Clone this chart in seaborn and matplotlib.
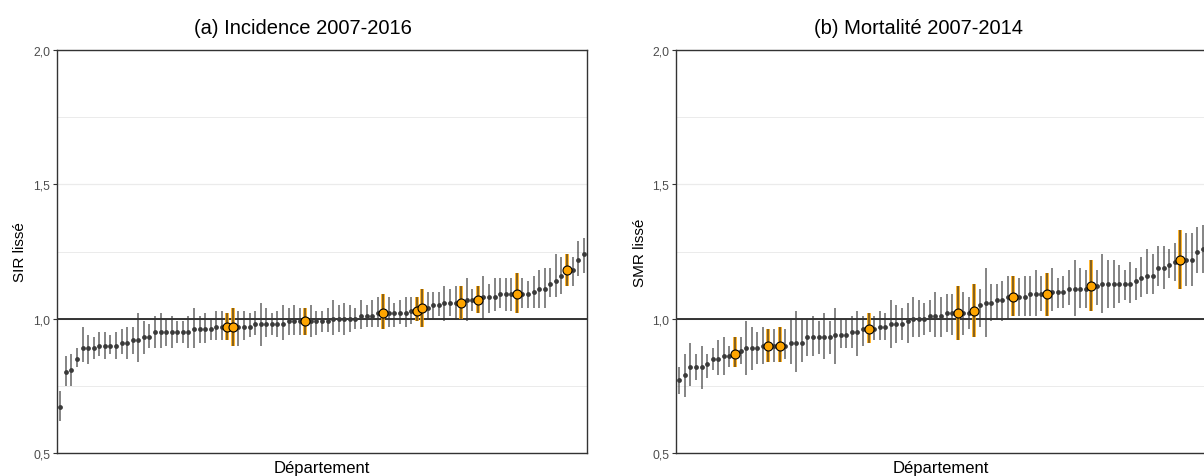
import numpy as np
import pandas as pd
import matplotlib
matplotlib.use("Agg")
import matplotlib.pyplot as plt
import seaborn as sns
from matplotlib.ticker import FixedLocator

# ---------------- data ----------------
titles = ["(a) Incidence 2007-2016", "(b) Mortalité 2007-2014"]
ylabels = ["SIR lissé", "SMR lissé"]
xlabel = "Département"
ytick_values = [0.5, 1.0, 1.5, 2.0]
ytick_labels = ["0,5", "1,0", "1,5", "2,0"]

est_a = [0.67, 0.80, 0.81, 0.85, 0.89, 0.89, 0.89, 0.90, 0.90, 0.90,
         0.90, 0.91, 0.91, 0.92, 0.92, 0.93, 0.93, 0.95, 0.95, 0.95,
         0.95, 0.95, 0.95, 0.95, 0.96, 0.96, 0.96, 0.96, 0.97, 0.97,
         0.97, 0.97, 0.97, 0.97, 0.97, 0.98, 0.98, 0.98, 0.98, 0.98,
         0.98, 0.99, 0.99, 0.99, 0.99, 0.99, 0.99, 0.99, 0.99, 1.00,
         1.00, 1.00, 1.00, 1.00, 1.01, 1.01, 1.01, 1.02, 1.02, 1.02,
         1.02, 1.02, 1.02, 1.03, 1.03, 1.04, 1.04, 1.05, 1.05, 1.06,
         1.06, 1.06, 1.06, 1.07, 1.07, 1.07, 1.08, 1.08, 1.08, 1.09,
         1.09, 1.09, 1.09, 1.09, 1.09, 1.10, 1.11, 1.11, 1.13, 1.14,
         1.16, 1.18, 1.18, 1.22, 1.24]
lo_a = [0.62, 0.75, 0.75, 0.82, 0.84, 0.83, 0.85, 0.86, 0.85, 0.87,
        0.85, 0.87, 0.85, 0.87, 0.84, 0.87, 0.89, 0.89, 0.89, 0.90,
        0.89, 0.91, 0.91, 0.89, 0.89, 0.91, 0.91, 0.92, 0.92, 0.92,
        0.92, 0.90, 0.90, 0.92, 0.93, 0.94, 0.90, 0.93, 0.94, 0.93,
        0.92, 0.94, 0.94, 0.94, 0.94, 0.93, 0.94, 0.95, 0.95, 0.94,
        0.95, 0.94, 0.95, 0.96, 0.96, 0.97, 0.97, 0.97, 0.96, 0.97,
        0.97, 0.98, 0.97, 0.98, 0.99, 0.97, 1.00, 1.00, 1.01, 0.99,
        1.01, 1.00, 1.00, 0.99, 1.03, 1.02, 1.00, 1.02, 1.03, 1.04,
        1.03, 1.03, 1.02, 1.04, 1.04, 1.04, 1.04, 1.04, 1.08, 1.08,
        1.09, 1.12, 1.12, 1.16, 1.17]
hi_a = [0.73, 0.86, 0.87, 0.89, 0.97, 0.94, 0.93, 0.95, 0.95, 0.94,
        0.95, 0.96, 0.97, 0.97, 1.02, 0.99, 0.98, 1.01, 1.02, 1.00,
        1.01, 0.99, 0.99, 1.01, 1.04, 1.01, 1.02, 1.00, 1.03, 1.03,
        1.02, 1.04, 1.03, 1.03, 1.02, 1.03, 1.06, 1.04, 1.02, 1.03,
        1.05, 1.04, 1.05, 1.04, 1.04, 1.05, 1.03, 1.03, 1.04, 1.07,
        1.05, 1.06, 1.05, 1.04, 1.07, 1.05, 1.07, 1.08, 1.09, 1.08,
        1.06, 1.07, 1.08, 1.08, 1.08, 1.11, 1.10, 1.10, 1.10, 1.12,
        1.11, 1.12, 1.12, 1.15, 1.11, 1.12, 1.16, 1.13, 1.15, 1.15,
        1.15, 1.15, 1.17, 1.15, 1.14, 1.16, 1.18, 1.19, 1.19, 1.24,
        1.23, 1.24, 1.23, 1.29, 1.30]
highlight_a = [31, 32, 45, 59, 65, 66, 73, 76, 83, 92]

est_b = [0.77, 0.79, 0.82, 0.82, 0.82, 0.83, 0.85, 0.85, 0.86, 0.86,
         0.87, 0.88, 0.89, 0.89, 0.89, 0.90, 0.90, 0.90, 0.90, 0.90,
         0.91, 0.91, 0.91, 0.93, 0.93, 0.93, 0.93, 0.93, 0.94, 0.94,
         0.94, 0.95, 0.95, 0.96, 0.96, 0.96, 0.97, 0.97, 0.98, 0.98,
         0.98, 0.99, 1.00, 1.00, 1.00, 1.01, 1.01, 1.01, 1.02, 1.02,
         1.02, 1.02, 1.02, 1.03, 1.05, 1.06, 1.06, 1.07, 1.07, 1.08,
         1.08, 1.08, 1.08, 1.09, 1.09, 1.09, 1.09, 1.10, 1.10, 1.10,
         1.11, 1.11, 1.11, 1.11, 1.12, 1.12, 1.13, 1.13, 1.13, 1.13,
         1.13, 1.13, 1.14, 1.15, 1.16, 1.16, 1.19, 1.19, 1.20, 1.21,
         1.22, 1.22, 1.22, 1.25, 1.26]
lo_b = [0.72, 0.71, 0.75, 0.77, 0.74, 0.78, 0.81, 0.79, 0.79, 0.82,
        0.82, 0.83, 0.79, 0.81, 0.83, 0.83, 0.84, 0.84, 0.84, 0.85,
        0.83, 0.80, 0.84, 0.86, 0.86, 0.87, 0.85, 0.87, 0.83, 0.89,
        0.89, 0.89, 0.86, 0.90, 0.91, 0.92, 0.92, 0.92, 0.89, 0.91,
        0.92, 0.91, 0.93, 0.93, 0.94, 0.95, 0.93, 0.93, 0.95, 0.94,
        0.92, 0.94, 0.96, 0.93, 0.97, 0.93, 0.99, 1.00, 0.99, 1.00,
        1.01, 1.01, 1.01, 1.01, 1.01, 1.03, 1.01, 1.03, 1.04, 1.04,
        1.05, 1.01, 1.04, 1.04, 1.03, 1.05, 1.02, 1.04, 1.04, 1.06,
        1.07, 1.06, 1.07, 1.08, 1.09, 1.09, 1.12, 1.11, 1.15, 1.14,
        1.11, 1.12, 1.12, 1.17, 1.17]
hi_b = [0.82, 0.87, 0.91, 0.87, 0.90, 0.87, 0.89, 0.92, 0.93, 0.90,
        0.93, 0.93, 0.99, 0.97, 0.95, 0.97, 0.96, 0.96, 0.97, 0.96,
        1.00, 1.03, 1.00, 1.00, 1.01, 0.99, 1.02, 0.99, 1.04, 1.00,
        1.00, 1.01, 1.03, 1.01, 1.02, 1.01, 1.03, 1.02, 1.07, 1.05,
        1.04, 1.06, 1.08, 1.07, 1.06, 1.07, 1.10, 1.08, 1.09, 1.09,
        1.12, 1.10, 1.08, 1.13, 1.11, 1.19, 1.13, 1.13, 1.14, 1.16,
        1.16, 1.15, 1.16, 1.16, 1.18, 1.16, 1.17, 1.19, 1.15, 1.16,
        1.18, 1.22, 1.19, 1.18, 1.22, 1.18, 1.24, 1.22, 1.22, 1.20,
        1.18, 1.21, 1.19, 1.23, 1.26, 1.24, 1.27, 1.27, 1.26, 1.28,
        1.33, 1.32, 1.32, 1.34, 1.35]
highlight_b = [11, 17, 19, 35, 51, 54, 61, 67, 75, 91]

# ---------------- style ----------------
sns.set_theme(style="white")
plt.rcParams['font.family'] = ['Liberation Sans', 'DejaVu Sans']

W, H = 1204, 477
fig = plt.figure(figsize=(W / 100, H / 100), dpi=100)

ORANGE = "#FFA500"


def draw(ax, est, lo, hi, hl, ylabel):
    n = len(est)
    df = pd.DataFrame({"dep": np.arange(1, n + 1), "est": est, "lo": lo, "hi": hi})
    df["hl"] = df["dep"].isin(hl)
    h = df[df["hl"]]

    ax.set_xlim(0.4, n + 0.6)
    ax.set_ylim(0.5, 2.0)
    ax.set_yticks(ytick_values)
    ax.set_yticklabels(ytick_labels)
    ax.yaxis.set_minor_locator(FixedLocator([0.75, 1.25, 1.75]))
    ax.set_axisbelow(True)
    ax.grid(False)
    ax.grid(axis="y", which="major", color="#EBEBEB", lw=0.9)
    ax.grid(axis="y", which="minor", color="#EBEBEB", lw=0.7)
    ax.axhline(1.0, color="black", lw=1.1, zorder=1.5)

    ax.vlines(h["dep"], h["lo"], h["hi"], color=ORANGE, lw=2.6, zorder=2)
    ax.vlines(df["dep"], df["lo"], df["hi"], color="#333333", alpha=0.65, lw=1.3, zorder=3)
    sns.scatterplot(data=df, x="dep", y="est", ax=ax, color="#3a3a3a", s=12,
                    linewidth=0, zorder=4, legend=False)
    sns.scatterplot(data=h, x="dep", y="est", ax=ax, color=ORANGE, edgecolor="black",
                    s=42, linewidth=0.8, zorder=5, legend=False)

    ax.set_xticks([])
    ax.set_xlabel(xlabel, fontsize=12, labelpad=5, color="black")
    ax.set_ylabel(ylabel, fontsize=11, color="black")
    for sp in ax.spines.values():
        sp.set_visible(True)
        sp.set_color("#333333")
        sp.set_linewidth(1.0)
    ax.tick_params(axis="y", which="major", left=True, length=3, width=0.8,
                   color="#333333", labelcolor="#4D4D4D", labelsize=8.8, pad=2)
    ax.tick_params(axis="y", which="minor", left=False, length=0)


bottom = (H - 454) / H
height = (454 - 51) / H
ax1 = fig.add_axes([57 / W, bottom, 530 / W, height])
ax2 = fig.add_axes([676 / W, bottom, 530 / W, height])

draw(ax1, est_a, lo_a, hi_a, highlight_a, ylabels[0])
draw(ax2, est_b, lo_b, hi_b, highlight_b, ylabels[1])

title_y = 1 - 28 / H
fig.text(303 / W, title_y, titles[0], ha="center", va="center", fontsize=14.5, color="black")
fig.text(919 / W, title_y, titles[1], ha="center", va="center", fontsize=14.5, color="black")

fig.savefig("out.png", dpi=100)
